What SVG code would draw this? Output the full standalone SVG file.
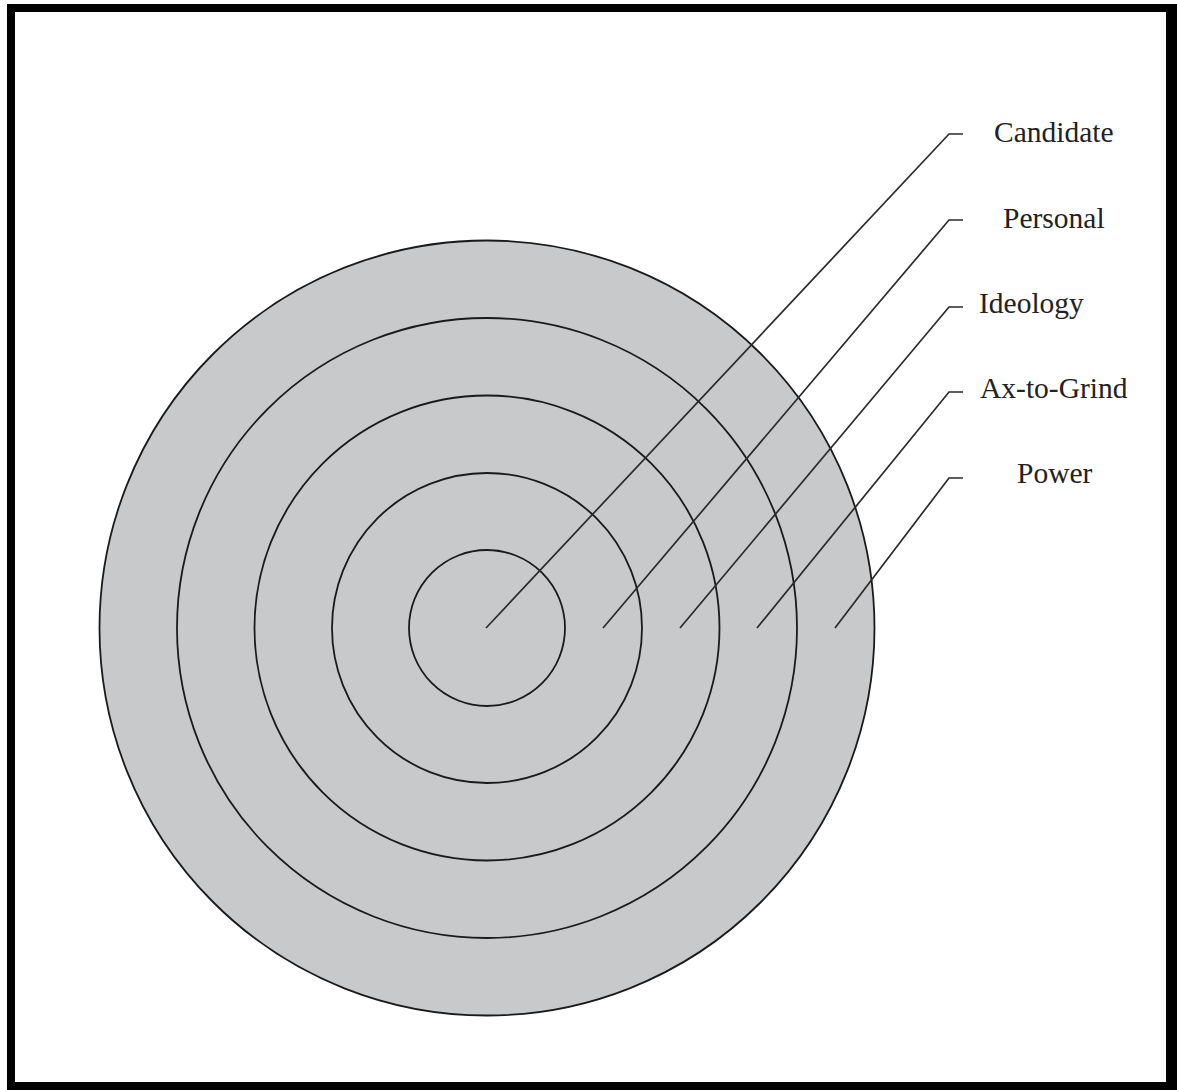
<svg xmlns="http://www.w3.org/2000/svg" width="1177" height="1090" viewBox="0 0 1177 1090">
<style>
.ring{fill:#c8c9cb;stroke:#1a1a1a;stroke-width:1.8}
.lead{fill:none;stroke:#2a2a2a;stroke-width:1.7}
.lbl{font-family:"Liberation Serif","Times New Roman",serif;font-size:29.5px;fill:#222}
</style>
<rect width="1177" height="1090" fill="#fff"/>
<path d="M7 4H1177V1090H7Z M15 12V1082H1166V12Z" fill="#000" fill-rule="evenodd"/>
<g id="rings">
<circle id="power" class="ring" cx="487" cy="628" r="387.5"/>
<circle id="ax-to-grind" class="ring" cx="487" cy="628" r="310"/>
<circle id="ideology" class="ring" cx="487" cy="628" r="232.5"/>
<circle id="personal" class="ring" cx="487" cy="628" r="155"/>
<circle id="candidate" class="ring" cx="487" cy="628" r="78"/>
</g>
<g id="connectors">
<polyline class="lead" points="486,628 949,134 963,134"/>
<polyline class="lead" points="603,628 949,220 963,220"/>
<polyline class="lead" points="680,628 949,307 963,307"/>
<polyline class="lead" points="757,628 949,392 963,392"/>
<polyline class="lead" points="835,628 949,478 963,478"/>
</g>
<g id="labels">
<text class="lbl" x="994" y="141.5">Candidate</text>
<text class="lbl" x="1003" y="227.5">Personal</text>
<text class="lbl" x="979" y="313">Ideology</text>
<text class="lbl" x="980" y="398">Ax-to-Grind</text>
<text class="lbl" x="1017" y="483">Power</text>
</g>
</svg>
